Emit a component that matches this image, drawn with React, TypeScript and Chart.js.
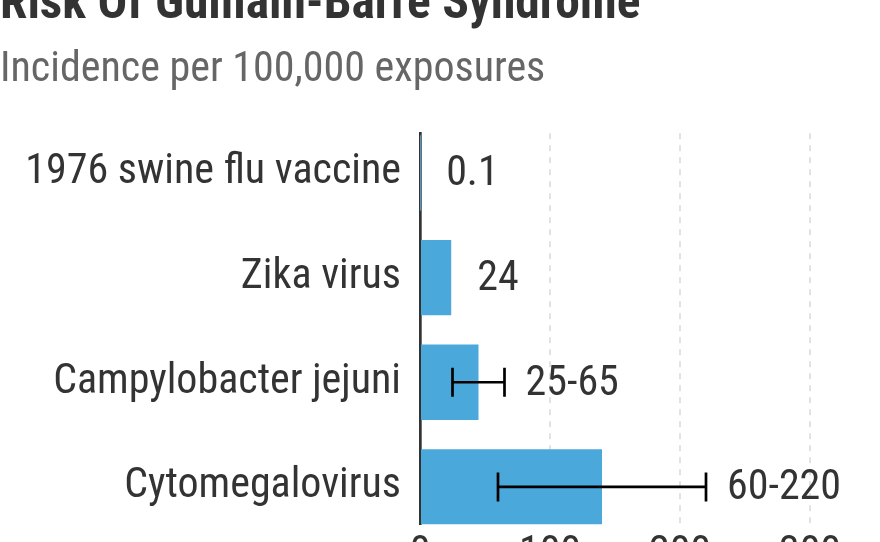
import { useEffect, useRef } from 'react'
import { Chart, registerables } from 'chart.js'

Chart.register(...registerables)

const categories = ['1976 swine flu vaccine', 'Zika virus', 'Campylobacter jejuni', 'Cytomegalovirus']
const midValues = [0.1, 24, 45, 140]
const lowValues = [null, null, 25, 60]
const highValues = [null, null, 65, 220]
const valueLabels = ['0.1', '24', '25-65', '60-220']
const xTicks = [0, 100, 200, 300]

const FONT = "'Roboto Condensed', 'Liberation Sans Narrow', 'Liberation Sans', Arial, sans-serif"

// range whiskers + value labels to the right of each bar
const errorBarPlugin = {
  id: 'errorBars',
  afterDatasetsDraw(chart: any) {
    const { ctx } = chart
    const x = chart.scales.x
    const meta = chart.getDatasetMeta(0)
    ctx.save()
    meta.data.forEach((bar: any, i: number) => {
      const y = bar.y
      let end = bar.x + 26
      const lo = lowValues[i]
      const hi = highValues[i]
      if (lo != null && hi != null) {
        const x1 = x.getPixelForValue(lo)
        const x2 = x.getPixelForValue(hi)
        ctx.strokeStyle = '#000'
        ctx.lineWidth = 2.7
        ctx.beginPath()
        ctx.moveTo(x1, y)
        ctx.lineTo(x2, y)
        ctx.moveTo(x1, y - 14.5)
        ctx.lineTo(x1, y + 14.5)
        ctx.moveTo(x2, y - 14.5)
        ctx.lineTo(x2, y + 14.5)
        ctx.stroke()
        end = Math.max(end, x2 + 21)
      }
      ctx.fillStyle = '#333'
      ctx.font = `42px ${FONT}`
      ctx.textAlign = 'left'
      ctx.textBaseline = 'middle'
      ctx.fillText(valueLabels[i], end, y + 2)
    })
    ctx.restore()
  },
}

export default function App() {
  const chartRef = useRef<HTMLCanvasElement>(null)

  useEffect(() => {
    if (!chartRef.current) return
    document.body.style.margin = '0'

    const chart = new Chart(chartRef.current, {
      type: 'bar',
      data: {
        datasets: [
          {
            label: 'Incidence',
            data: categories.map((_, i) => ({ x: midValues[i], y: i })),
            backgroundColor: '#4ba8db',
            borderWidth: 0,
            barPercentage: 0.72,
            categoryPercentage: 1,
          },
        ],
      },
      options: {
        indexAxis: 'y',
        animation: false,
        responsive: true,
        maintainAspectRatio: false,
        layout: { padding: { left: 0, right: 5, top: 0, bottom: 0 } },
        plugins: {
          legend: { display: false },
          tooltip: { enabled: false },
          title: {
            display: true,
            text: 'Risk Of Guillain-Barré Syndrome',
            align: 'start',
            color: '#333',
            font: { family: FONT, size: 49.5, weight: 'bold' },
            padding: { top: 16.4, bottom: 0 },
          },
          subtitle: {
            display: true,
            text: 'Incidence per 100,000 exposures',
            align: 'start',
            color: '#666',
            font: { family: FONT, size: 42 },
            padding: { top: 9.5, bottom: 37.5 },
          },
        },
        scales: {
          x: {
            type: 'linear',
            min: 0,
            max: 350,
            afterBuildTicks: (scale: any) => {
              scale.ticks = xTicks.map((v) => ({ value: v }))
            },
            grid: { color: '#e2e2e2', lineWidth: 2, drawTicks: false },
            border: { display: false, dash: [6, 6] },
            ticks: { color: '#333', padding: 5, font: { family: FONT, size: 42 } },
          },
          y: {
            type: 'linear',
            reverse: true,
            offset: false,
            min: -0.38,
            max: 3.36,
            z: 1,
            afterBuildTicks: (scale: any) => {
              scale.ticks = categories.map((_, i) => ({ value: i }))
            },
            afterFit: (scale: any) => {
              scale.width = 420
            },
            grid: { display: false, drawTicks: false },
            border: { display: true, color: '#333', width: 2.7 },
            ticks: {
              color: '#333',
              padding: 19,
              autoSkip: false,
              font: { family: FONT, size: 42 },
              callback: (value: any) => categories[value as number] ?? '',
            },
          },
        },
      },
      plugins: [errorBarPlugin],
    })

    return () => chart.destroy()
  }, [])

  return (
    <div style={{ position: 'relative', width: 880, height: 542, overflow: 'hidden' }}>
      <div style={{ position: 'absolute', left: 0, top: -40, width: 880, height: 625 }}>
        <canvas ref={chartRef} />
      </div>
    </div>
  )
}
